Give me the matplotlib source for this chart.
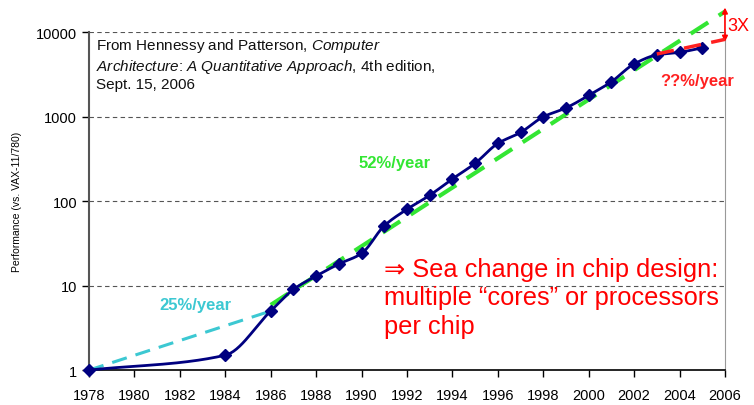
import numpy as np
import matplotlib.pyplot as plt

plt.rcParams['font.family'] = ['Liberation Sans', 'DejaVu Sans']
plt.rcParams['mathtext.fontset'] = 'custom'
plt.rcParams['mathtext.rm'] = 'Liberation Sans'
plt.rcParams['mathtext.it'] = 'Liberation Sans:italic'

# performance relative to VAX-11/780
years = [1978, 1984, 1986, 1987, 1988, 1989, 1990, 1991, 1992, 1993, 1994, 1995,
         1996, 1997, 1998, 1999, 2000, 2001, 2002, 2003, 2004, 2005]
perf = [1, 1.5, 5, 9, 13, 18, 24, 51, 80, 117, 183, 280,
        481, 649, 993, 1267, 1779, 2584, 4195, 5364, 5764, 6505]

# trend lines (start/end)
trend25_x, trend25_y = [1978, 1986], [1, 5]
trend52_x, trend52_y = [1986, 2006], [5.9, 17500]
trendq_x, trendq_y = [2003, 2006], [5500, 8200]
arrow_y = [7700, 19500]

xticks = list(range(1978, 2007, 2))
yticks = [1, 10, 100, 1000, 10000]


def pchip(x, y, n=400):
    # monotone cubic through the points (Fritsch-Carlson)
    x = np.asarray(x, float)
    y = np.asarray(y, float)
    h = np.diff(x)
    d = np.diff(y) / h
    m = np.zeros_like(y)
    m[0], m[-1] = d[0], d[-1]
    for i in range(1, len(y) - 1):
        if d[i - 1] * d[i] > 0:
            w1 = 2 * h[i] + h[i - 1]
            w2 = h[i] + 2 * h[i - 1]
            m[i] = (w1 + w2) / (w1 / d[i - 1] + w2 / d[i])
    xs = np.linspace(x[0], x[-1], n)
    k = np.clip(np.searchsorted(x, xs) - 1, 0, len(h) - 1)
    t = (xs - x[k]) / h[k]
    h00 = 2 * t**3 - 3 * t**2 + 1
    h10 = t**3 - 2 * t**2 + t
    h01 = -2 * t**3 + 3 * t**2
    h11 = t**3 - t**2
    ys = h00 * y[k] + h10 * h[k] * m[k] + h01 * y[k + 1] + h11 * h[k] * m[k + 1]
    return xs, ys


fig = plt.figure(figsize=(7.54, 4.06), dpi=100)
ax = fig.add_axes([0.118, 0.086, 0.8435, 0.8325])
ax.set_yscale('log')
ax.set_xlim(1978, 2006)
ax.set_ylim(1, 10000)

for v in yticks[1:]:
    ax.axhline(v, color='#555555', lw=0.8, ls=(0, (4, 3)), zorder=0)

# trend lines
ax.plot(trend25_x, trend25_y, color='#3cc8d2', lw=2.2, ls=(0, (5, 3)), zorder=2)
ax.plot(trend52_x, trend52_y, color='#33e633', lw=3, ls=(0, (5, 3)), zorder=2, clip_on=False)
ax.plot(trendq_x, trendq_y, color='#ff2020', lw=2.5, ls=(0, (5, 3)), zorder=4, clip_on=False)

# performance curve
sx, sy = pchip(years, np.log10(perf))
ax.plot(sx, 10**sy, color='#000080', lw=2, zorder=3, clip_on=False)
ax.plot(years, perf, ls='none', marker='D', ms=6.5, color='#000080', zorder=3, clip_on=False)

# 3X arrow
ax.annotate('', xy=(2006, arrow_y[1]), xytext=(2006, arrow_y[0]),
            arrowprops=dict(arrowstyle='<|-|>', color='red', lw=1.2,
                            mutation_scale=8, shrinkA=0, shrinkB=0),
            annotation_clip=False)
ax.text(2006.1, 12000, '3X', color='red', fontsize=13, va='center', ha='left')

ax.text(1978.3, 8900,
        'From Hennessy and Patterson, $\\mathit{Computer}$\n'
        '$\\mathit{Architecture}$:$\\mathit{\\ A\\ Quantitative\\ Approach}$, 4th edition,\n'
        'Sept. 15, 2006',
        fontsize=11, va='top', ha='left', color='#111111', linespacing=1.2)

ax.text(1989.85, 290, '52%/year', color='#33e633', fontsize=12, fontweight='bold',
        va='center', ha='left')
ax.text(1981.1, 6.0, '25%/year', color='#3cc8d2', fontsize=12, fontweight='bold',
        va='center', ha='left')
ax.text(2003.14, 2640, '??%/year', color='#ff2020', fontsize=12, fontweight='bold',
        va='center', ha='left', clip_on=False)

ax.text(1991.0, 22, '\u21d2 Sea change in chip design:\nmultiple \u201ccores\u201d or processors\nper chip',
        color='red', fontsize=18.3, va='top', ha='left', linespacing=1.24)

ax.set_xticks(xticks)
ax.set_yticks(yticks)
ax.set_yticklabels([str(v) for v in yticks])
ax.minorticks_off()
ax.tick_params(axis='both', labelsize=10.5, direction='out', length=5, width=1)
ax.tick_params(axis='x', pad=8)
ax.set_ylabel('Performance (vs. VAX-11/780)', fontsize=7.5, labelpad=10)

ax.spines['top'].set_visible(False)
ax.spines['left'].set_color('#555555')
ax.spines['left'].set_linewidth(1.5)
ax.spines['right'].set_color('#999999')
ax.spines['bottom'].set_color('black')
ax.spines['bottom'].set_linewidth(1.2)

fig.savefig('out.png', dpi=100)
